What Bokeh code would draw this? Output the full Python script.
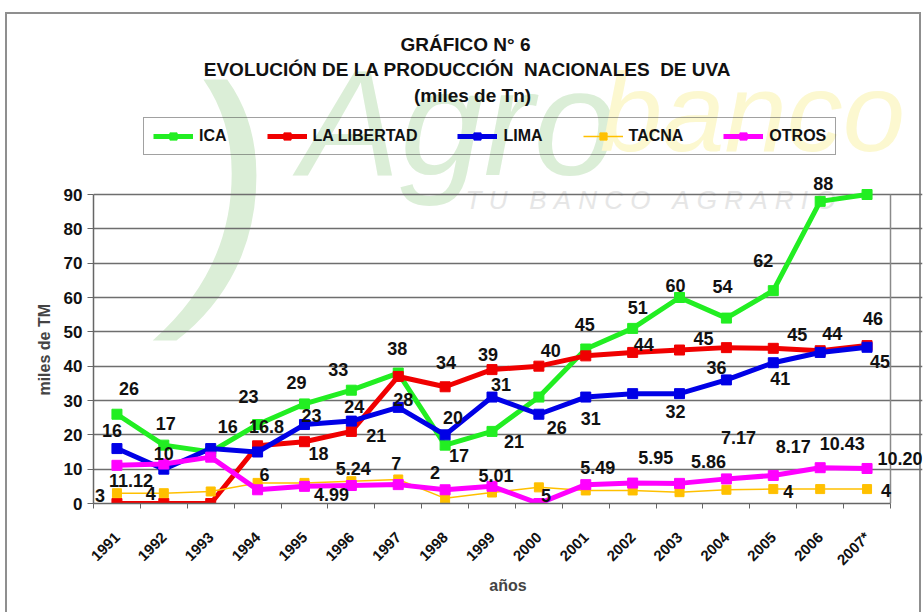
from math import pi
from bokeh.plotting import figure
from bokeh.models import (ColumnDataSource, FixedTicker, Label, LabelSet,
                          Legend, LegendItem, CustomJSTickFormatter)
from bokeh.core.properties import value
from bokeh.embed import file_html
from bokeh.resources import INLINE

# ---------------- data ----------------
years = ["1991", "1992", "1993", "1994", "1995", "1996", "1997", "1998", "1999",
         "2000", "2001", "2002", "2003", "2004", "2005", "2006", "2007*"]
ica = [26, 17, 15, 23, 29, 33, 38, 17, 21, 31, 45, 51, 60, 54, 62, 88, 90]
la_libertad = [0, 0, 0, 16.8, 18, 21, 37, 34, 39, 40, 43, 44, 44.7, 45.4, 45.2, 44.5, 46]
lima = [16, 10, 16, 15, 23, 24, 28, 20, 31, 26, 31, 32, 32, 36, 41, 44, 45.5]
tacna = [3, 3, 3.5, 6, 6, 6.5, 7, 1.5, 3.2, 4.7, 3.8, 3.8, 3.3, 4, 4.2, 4.2, 4.2]
otros = [11.12, 11.5, 13.5, 4, 4.99, 5.24, 5.5, 4, 5.01, 0, 5.49, 5.95, 5.86, 7.17, 8.17, 10.43, 10.20]

ica_labels = ["26", "17", "", "23", "29", "33", "38", "17", "21", "", "45", "51", "60", "54", "62", "88", ""]
lib_labels = ["", "", "", "16.8", "18", "21", "", "34", "39", "40", "", "44", "", "45", "45", "44", "46"]
lima_labels = ["16", "10", "16", "", "23", "24", "28", "20", "31", "26", "31", "", "32", "36", "41", "", "45"]
tacna_labels = ["3", "4", "", "6", "", "", "7", "2", "", "5", "", "", "", "", "4", "", "4"]
otros_labels = ["11.12", "", "", "", "4.99", "5.24", "", "", "5.01", "", "5.49", "5.95", "5.86", "7.17", "8.17", "10.43", "10.20"]

y_ticks = [0, 10, 20, 30, 40, 50, 60, 70, 80, 90]

# label offsets in pixels (dx right, dy down) -- presentation only
ica_off = [(12, -26), (2, -22), None, (-9, -28), (-8, -21), (-13, -21), (-1, -25), (14, 10), (22, 10), None,
           (-1, -25), (5, -21), (-4, -12), (-4, -32), (-10, -30), (3, -18), None]
lib_off = [None, None, None, (9, -19), (14, 12), (25, 4), None, (1, -24), (-4, -15), (12, -16), None,
           (11, -8), None, (-23, -9), (24, -14), (12, -17), (6, -27)]
lima_off = [(-5, -18), (0, -16), (17, -22), None, (7, -9), (3, -15), (5, -8), (8, -17), (9, -13), (18, 13),
            (5, 21), None, (-4, 18), (-10, -12), (7, 16), None, (13, 14)]
tacna_off = [(-17, 2), (-13, 0), None, (7, -8), None, None, (-2, -16), (-10, -26), None, (7, 8), None,
             None, None, None, (15, 2), None, (19, 1)]
otros_off = [(14, 15), None, None, None, (27, 8), (2, -17), None, None, (4, -11), None, (12, -17),
             (23, -26), (29, -22), (12, -41), (20, -29), (22, -24), (33, -10)]

# ---------------- geometry ----------------
W, H = 924, 612
BL, BR, BT, BB = 93, 2, 0, 109          # canvas borders around the (enlarged) frame
PLOT_L, PLOT_R, PLOT_T, PLOT_B = 93, 890, 194, 503   # visible Excel-style plot area (page px)
n = len(years)
YMAX = y_ticks[-1]
ppx = (PLOT_R - PLOT_L) / n            # px per category
ppy = (PLOT_B - PLOT_T) / YMAX         # px per unit
x_end = (W - BR - PLOT_L) / ppx
y_end = (PLOT_B - BT) / ppy


def px2x(px):
    return (px - PLOT_L) / ppx


def px2y(py):
    return (PLOT_B - py) / ppy


FONT = "Liberation Sans"
BORDER = "#8f8f8f"
NB = "\u00a0"

p = figure(width=W, height=H, x_range=(0, x_end), y_range=(0, y_end),
           output_backend="svg", toolbar_location=None, title=None,
           min_border_left=BL, min_border_right=BR, min_border_top=BT, min_border_bottom=BB)
p.background_fill_color = None
p.border_fill_color = None
p.outline_line_color = None
p.styles = {
    "background-color": "white",
    "background-image": f"linear-gradient({BORDER},{BORDER}), linear-gradient({BORDER},{BORDER}), "
                        f"linear-gradient({BORDER},{BORDER})",
    "background-size": "2px 620px, 916px 2px, 2px 620px",
    "background-position": "5px 12px, 5px 12px, 919px 12px",
    "background-repeat": "no-repeat",
}

# watermark (faint logo text, behind everything)
wm = [(")", 226, 185, "#dbeed7", "280px", "normal"),
      ("Agro", 458, 122, "#dbeed7", "150px", "bold italic"),
      ("banco", 752, 112, "#fcf8d0", "112px", "bold italic")]
for t, x, y, c, fs, st in wm:
    p.add_layout(Label(x=px2x(x), y=px2y(y), text=t, text_align="center", text_baseline="middle",
                       text_color=c, text_font_size=fs, text_font_style="italic", text_font=FONT,
                       level="image"))
p.add_layout(Label(x=px2x(650), y=px2y(199),
                   text=(NB * 3).join(" ".join("TU"), ) if False else
                   f"T{NB}U{NB*3}B{NB}A{NB}N{NB}C{NB}O{NB*3}A{NB}G{NB}R{NB}A{NB}R{NB}I{NB}O",
                   text_align="center", text_baseline="middle", text_color="#e6e6e6",
                   text_font_size="26px", text_font_style="italic", text_font=FONT, level="image"))

# axes
centers = [i + 0.5 for i in range(n)]
p.xaxis.bounds = (0, n)
p.xaxis.ticker = FixedTicker(ticks=centers, minor_ticks=list(range(n + 1)))
p.xaxis.formatter = CustomJSTickFormatter(args=dict(years=years),
                                          code="return years[Math.floor(tick)] || '';")
p.xaxis.major_label_orientation = pi / 4
p.xaxis.major_tick_line_color = None
p.xaxis.minor_tick_in = 0
p.xaxis.minor_tick_out = 5
p.xaxis.minor_tick_line_color = "#666666"
p.xaxis.axis_line_color = "#666666"
p.xaxis.axis_line_width = 1.5
p.xaxis.major_label_standoff = 25
p.xaxis.major_label_text_font = FONT
p.xaxis.major_label_text_font_size = "15px"
p.xaxis.major_label_text_font_style = "bold"
p.xaxis.major_label_text_color = "#111111"
p.xaxis.axis_label = "años"
p.xaxis.axis_label_text_font = FONT
p.xaxis.axis_label_text_font_size = "16px"
p.xaxis.axis_label_text_font_style = "bold"
p.xaxis.axis_label_standoff = 0

p.yaxis.bounds = (0, YMAX)
p.yaxis.ticker = FixedTicker(ticks=y_ticks)
p.yaxis.minor_tick_line_color = None
p.yaxis.major_tick_in = 0
p.yaxis.major_tick_out = 6
p.yaxis.major_tick_line_color = "#666666"
p.yaxis.axis_line_color = "#666666"
p.yaxis.axis_line_width = 1.5
p.yaxis.major_label_standoff = 5
p.yaxis.major_label_text_font = FONT
p.yaxis.major_label_text_font_size = "17px"
p.yaxis.major_label_text_font_style = "bold"
p.yaxis.major_label_text_color = "#111111"
# non-breaking padding keeps the rotated title centred on the 0-90 part of the axis
p.yaxis.axis_label = "miles de TM" + NB * 44
p.yaxis.axis_label_text_font = FONT
p.yaxis.axis_label_text_font_size = "16px"
p.yaxis.axis_label_text_font_style = "bold"
p.yaxis.axis_label_standoff = 8

p.xgrid.grid_line_color = None
p.ygrid.ticker = FixedTicker(ticks=y_ticks)
p.ygrid.bounds = (0, n)
p.ygrid.grid_line_color = "#6e6e6e"
p.ygrid.grid_line_width = 1.3

# right border of the plot area
p.segment(x0=[n], y0=[0], x1=[n], y1=[YMAX], line_color="#8a8a8a", line_width=1.5)

# series
series = [
    ("ICA", ica, ica_labels, ica_off, "#22ee22", 5, 10),
    ("LA LIBERTAD", la_libertad, lib_labels, lib_off, "#f00000", 5, 10),
    ("LIMA", lima, lima_labels, lima_off, "#0000e6", 5, 10),
    ("TACNA", tacna, tacna_labels, tacna_off, "#ffc000", 1.5, 9),
    ("OTROS", otros, otros_labels, otros_off, "#ff00ff", 5, 10),
]

items = []
label_sets = []
for name, vals, labs, offs, color, lw, ms in series:
    src = ColumnDataSource(dict(x=centers, y=vals))
    ln = p.line("x", "y", source=src, line_color=color, line_width=lw)
    sc = p.scatter("x", "y", source=src, marker="square", size=ms, fill_color=color,
                   line_color=color)
    items.append(LegendItem(label=name, renderers=[ln, sc]))
    lx, ly, lt, dx, dy = [], [], [], [], []
    for c, v, t, o in zip(centers, vals, labs, offs):
        if t and o is not None:
            lx.append(c)
            ly.append(v)
            lt.append(t)
            dx.append(o[0])
            dy.append(-o[1])
    label_sets.append(LabelSet(x="x", y="y", text="t", x_offset="dx", y_offset="dy",
                               source=ColumnDataSource(dict(x=lx, y=ly, t=lt, dx=dx, dy=dy)),
                               text_align="center", text_baseline="middle",
                               text_font=value(FONT), text_font_size=value("18px"),
                               text_font_style="bold", text_color="#111111"))
for ls in label_sets:
    p.add_layout(ls)

legend = Legend(items=items, orientation="horizontal", location=(50, 348),
                glyph_width=40, glyph_height=18, label_standoff=6, spacing=40, padding=9,
                label_text_font=FONT, label_text_font_size="16px", label_text_font_style="bold",
                label_text_color="#111111", border_line_color="#444444", border_line_width=1,
                background_fill_color="white", background_fill_alpha=0.0)
p.add_layout(legend)

# titles
titles = [("GRÁFICO N° 6", 465, 44),
          (f"EVOLUCIÓN DE LA PRODUCCIÓN{NB} NACIONALES{NB} DE UVA", 467, 69),
          ("(miles de Tn)", 472, 95)]
for t, x, y in titles:
    p.add_layout(Label(x=px2x(x), y=px2y(y), text=t, text_align="center", text_baseline="middle",
                       text_font=FONT, text_font_size="19px", text_font_style="bold",
                       text_color="#111111"))

open("out.html", "w").write(file_html(p, INLINE))
